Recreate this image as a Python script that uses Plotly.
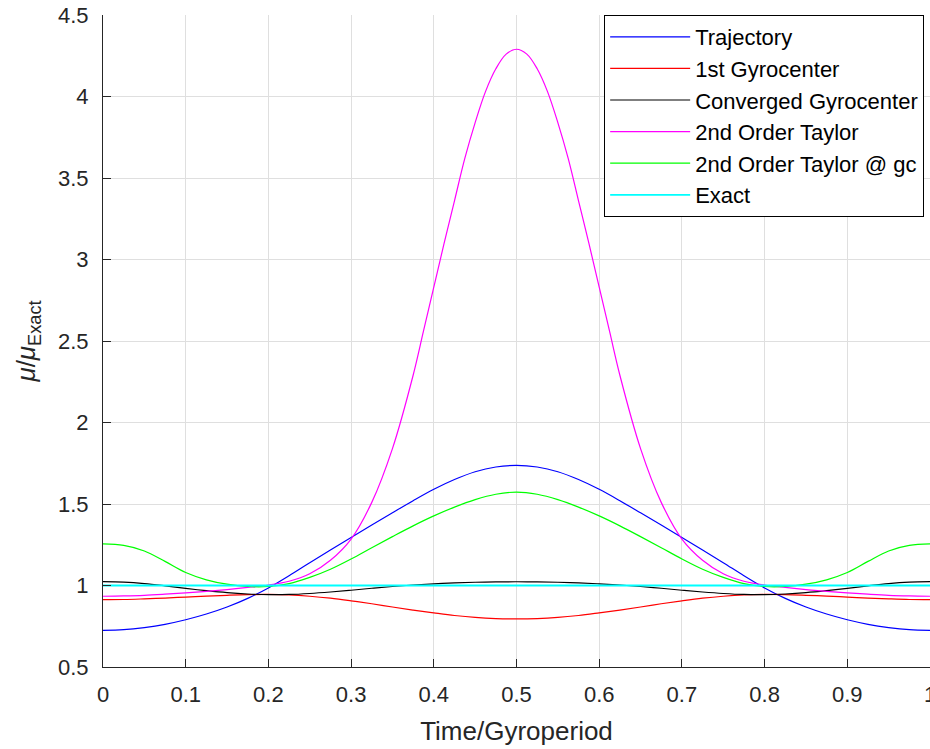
import plotly.graph_objects as go

# Time / Gyroperiod samples
t = [0.000, 0.025, 0.050, 0.075, 0.100, 0.125, 0.150, 0.175, 0.200, 0.225,
     0.250, 0.275, 0.300, 0.325, 0.350, 0.375, 0.400, 0.425, 0.450, 0.475,
     0.500, 0.525, 0.550, 0.575, 0.600, 0.625, 0.650, 0.675, 0.700, 0.725,
     0.750, 0.775, 0.800, 0.825, 0.850, 0.875, 0.900, 0.925, 0.950, 0.975, 1.000]

trajectory = [0.725, 0.729, 0.742, 0.762, 0.790, 0.825, 0.868, 0.921, 0.985, 1.060,
              1.140, 1.218, 1.295, 1.371, 1.446, 1.520, 1.590, 1.650, 1.698, 1.727,
              1.737, 1.727, 1.698, 1.650, 1.590, 1.520, 1.446, 1.371, 1.295, 1.218,
              1.140, 1.060, 0.985, 0.921, 0.868, 0.825, 0.790, 0.762, 0.742, 0.729, 0.725]

gyro1 = [0.913, 0.914, 0.918, 0.923, 0.929, 0.935, 0.940, 0.944, 0.945, 0.942,
         0.934, 0.922, 0.906, 0.888, 0.868, 0.849, 0.832, 0.816, 0.804, 0.797,
         0.795, 0.797, 0.804, 0.816, 0.832, 0.849, 0.868, 0.888, 0.906, 0.922,
         0.934, 0.942, 0.945, 0.944, 0.940, 0.935, 0.929, 0.923, 0.918, 0.914, 0.913]

converged = [1.024, 1.021, 1.012, 0.998, 0.982, 0.968, 0.956, 0.948, 0.944, 0.945,
             0.951, 0.960, 0.971, 0.983, 0.994, 1.003, 1.010, 1.016, 1.020, 1.022,
             1.023, 1.022, 1.020, 1.016, 1.010, 1.003, 0.994, 0.983, 0.971, 0.960,
             0.951, 0.945, 0.944, 0.948, 0.956, 0.968, 0.982, 0.998, 1.012, 1.021, 1.024]

# 2nd Order Taylor is sampled more finely around its sharp peak
t_taylor = [0.000, 0.025, 0.050, 0.075, 0.100, 0.125, 0.150, 0.175, 0.200, 0.225,
            0.250, 0.275, 0.300, 0.325, 0.350, 0.375, 0.3875, 0.400, 0.4125, 0.425,
            0.4375, 0.450, 0.4625, 0.475, 0.4875, 0.500, 0.5125, 0.525, 0.5375, 0.550,
            0.5625, 0.575, 0.5875, 0.600, 0.6125, 0.625, 0.650, 0.675, 0.700, 0.725,
            0.750, 0.775, 0.800, 0.825, 0.850, 0.875, 0.900, 0.925, 0.950, 0.975, 1.000]

taylor2 = [0.934, 0.936, 0.940, 0.947, 0.955, 0.964, 0.975, 0.988, 1.003, 1.026,
           1.072, 1.155, 1.285, 1.510, 1.840, 2.290, 2.560, 2.830, 3.100, 3.360,
           3.620, 3.840, 4.030, 4.170, 4.260, 4.290, 4.260, 4.170, 4.030, 3.840,
           3.620, 3.360, 3.100, 2.830, 2.560, 2.290, 1.840, 1.510, 1.285, 1.155,
           1.072, 1.026, 1.003, 0.988, 0.975, 0.964, 0.955, 0.947, 0.940, 0.936, 0.934]

taylor2_gc = [1.255, 1.246, 1.212, 1.148, 1.080, 1.035, 1.008, 0.994, 0.994, 1.012,
              1.050, 1.100, 1.163, 1.232, 1.300, 1.366, 1.427, 1.481, 1.527, 1.560,
              1.573, 1.560, 1.527, 1.481, 1.427, 1.366, 1.300, 1.232, 1.163, 1.100,
              1.050, 1.012, 0.994, 0.994, 1.008, 1.035, 1.080, 1.148, 1.212, 1.246, 1.255]

exact = [1.0] * len(t)

series = [
    ("Trajectory", t, trajectory, "#0000ff", 1.2),
    ("1st Gyrocenter", t, gyro1, "#ff0000", 1.2),
    ("Converged Gyrocenter", t, converged, "#000000", 1.2),
    ("2nd Order Taylor", t_taylor, taylor2, "#ff00ff", 1.2),
    ("2nd Order Taylor @ gc", t, taylor2_gc, "#00ff00", 1.2),
    ("Exact", t, exact, "#00ffff", 1.8),
]

FONT = "Liberation Sans, Arial, Helvetica, sans-serif"
AX = "#262626"

fig = go.Figure()
for name, xs, ys, col, w in series:
    fig.add_trace(go.Scatter(x=xs, y=ys, mode="lines", name=name,
                             line=dict(color=col, width=w, shape="spline", smoothing=1.0)))

fig.update_layout(
    width=930, height=749,
    margin=dict(l=103, r=0, t=15, b=82),
    paper_bgcolor="white", plot_bgcolor="white",
    font=dict(family=FONT, size=22, color=AX),
    showlegend=True,
    legend=dict(x=0.606, y=1.0, xanchor="left", yanchor="top",
                bgcolor="white", bordercolor="#000000", borderwidth=1,
                font=dict(family=FONT, size=22, color="#000000"),
                itemwidth=80, tracegroupgap=0),
    xaxis=dict(range=[0, 1], dtick=0.1, tick0=0, automargin=False,
               showgrid=True, gridcolor="#dfdfdf", gridwidth=1,
               zeroline=False, showline=True, linecolor=AX, linewidth=1,
               ticks="inside", ticklen=8, tickcolor=AX, tickwidth=1,
               ticklabelstandoff=8, ticklabeloverflow="allow",
               tickfont=dict(family=FONT, size=22, color=AX),
               title=dict(text="Time/Gyroperiod", standoff=15,
                          font=dict(family=FONT, size=26, color=AX))),
    yaxis=dict(range=[0.5, 4.5], dtick=0.5, tick0=0.5, automargin=False,
               showgrid=True, gridcolor="#dfdfdf", gridwidth=1,
               zeroline=False, showline=True, linecolor=AX, linewidth=1,
               ticks="inside", ticklen=8, tickcolor=AX, tickwidth=1,
               ticklabelstandoff=9,
               tickfont=dict(family=FONT, size=22, color=AX),
               title=dict(text="<i>μ</i>/<i>μ</i><sub>Exact</sub>", standoff=14,
                          font=dict(family=FONT, size=26, color=AX))),
)

fig.write_html("out.html")
